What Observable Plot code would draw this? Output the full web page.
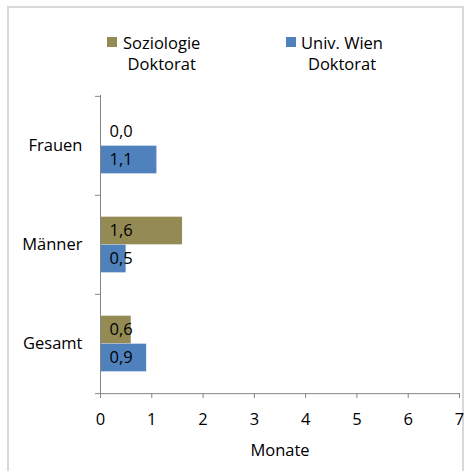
<!DOCTYPE html>
<html>
<head>
<meta charset="utf-8">
<script src="https://cdn.jsdelivr.net/npm/d3@7"></script>
<script src="https://cdn.jsdelivr.net/npm/@observablehq/plot@0.6"></script>
<style>
  html, body { margin: 0; padding: 0; background: #fff; }
  body { width: 467px; height: 471px; overflow: hidden; position: relative; font-family: "Open Sans", sans-serif; color: #000; }
  #frame { position: absolute; left: 7px; top: 6px; width: 457px; height: 520px; border: 2px solid #d9d9d9; border-bottom: none; box-sizing: border-box; }
  #legend { position: absolute; left: 0; top: 0; width: 467px; height: 80px; }
  .swatch { position: absolute; top: 37px; width: 10px; height: 10px; }
  .ltext { position: absolute; top: 32px; width: 92px; text-align: center; font-size: 16.5px; line-height: 21px; }
  #chart { position: absolute; left: 0; top: 80px; }
</style>
</head>
<body>
<div id="frame"></div>
<div id="legend"></div>
<div id="chart"></div>
<script>
// ---- data ----
const categories = ["Frauen", "Männer", "Gesamt"];
const seriesNames = ["Soziologie Doktorat", "Univ. Wien Doktorat"];
const soziologie = [0.0, 1.6, 0.6];
const univWien = [1.1, 0.5, 0.9];
const xTicks = [0, 1, 2, 3, 4, 5, 6, 7];
const colors = ["#948A54", "#4F81BD"];
const axisTitle = "Monate";

const data = categories.flatMap((c, i) => [
  {category: c, series: seriesNames[0], value: soziologie[i]},
  {category: c, series: seriesNames[1], value: univWien[i]}
]);

// ---- legend (HTML) ----
const legend = document.getElementById("legend");
const swatchLeft = [107, 286];
const textCenter = [161.7, 342];
seriesNames.forEach((name, i) => {
  const sw = document.createElement("div");
  sw.className = "swatch";
  sw.style.left = swatchLeft[i] + "px";
  sw.style.background = colors[i];
  legend.appendChild(sw);
  const t = document.createElement("div");
  t.className = "ltext";
  t.style.left = (textCenter[i] - 46) + "px";
  t.textContent = name;
  legend.appendChild(t);
});

// ---- chart ----
const W = 467, H = 391, mt = 15, mb = 78, ml = 100, mr = 8;
const band = (H - mt - mb) / categories.length;
const barH = 28;
const padOuter = (band - 2 * barH) / 2;
const fmt = v => v.toFixed(1).replace(".", ",");
const axisColor = "#868686";
const fs = 16.5;

const plot = Plot.plot({
  width: W,
  height: H,
  marginTop: mt,
  marginBottom: mb,
  marginLeft: ml,
  marginRight: mr,
  style: {fontFamily: "Open Sans, sans-serif", fontSize: fs + "px", color: "#000", background: "transparent"},
  x: {domain: [0, 7]},
  y: {domain: categories, padding: 0},
  color: {domain: seriesNames, range: colors},
  marks: [
    Plot.barX(data.filter(d => d.series === seriesNames[0]), {
      x: "value", y: "category", fill: "series",
      insetTop: padOuter, insetBottom: band - padOuter - barH
    }),
    Plot.barX(data.filter(d => d.series === seriesNames[1]), {
      x: "value", y: "category", fill: "series",
      insetTop: padOuter + barH, insetBottom: padOuter
    }),
    Plot.text(data.filter(d => d.series === seriesNames[0]), {
      x: 0, y: "category", text: d => fmt(d.value),
      dx: 9, dy: -barH / 2, textAnchor: "start", fill: "#000", fontSize: fs
    }),
    Plot.text(data.filter(d => d.series === seriesNames[1]), {
      x: 0, y: "category", text: d => fmt(d.value),
      dx: 9, dy: barH / 2, textAnchor: "start", fill: "#000", fontSize: fs
    }),
    Plot.ruleX([0], {stroke: axisColor}),
    Plot.ruleY(categories, {y: d => d, x1: 0, x2: 0, insetLeft: -5, dy: -band / 2, stroke: axisColor}),
    Plot.ruleY([categories[categories.length - 1]], {y: d => d, x1: 0, x2: 7, insetLeft: -5, dy: band / 2, stroke: axisColor}),
    Plot.axisY({tickSize: 0, tickPadding: 18, label: null, fontSize: fs, fill: "#000"}),
    Plot.axisX({ticks: xTicks, tickSize: 5, tickPadding: 14.5, label: null, fontSize: fs, stroke: axisColor, fill: "#000", tickFormat: d => String(d)}),
    Plot.text([axisTitle], {frameAnchor: "bottom", lineAnchor: "top", dy: 51, fontSize: fs, fill: "#000"})
  ]
});
document.getElementById("chart").appendChild(plot);
</script>
</body>
</html>
